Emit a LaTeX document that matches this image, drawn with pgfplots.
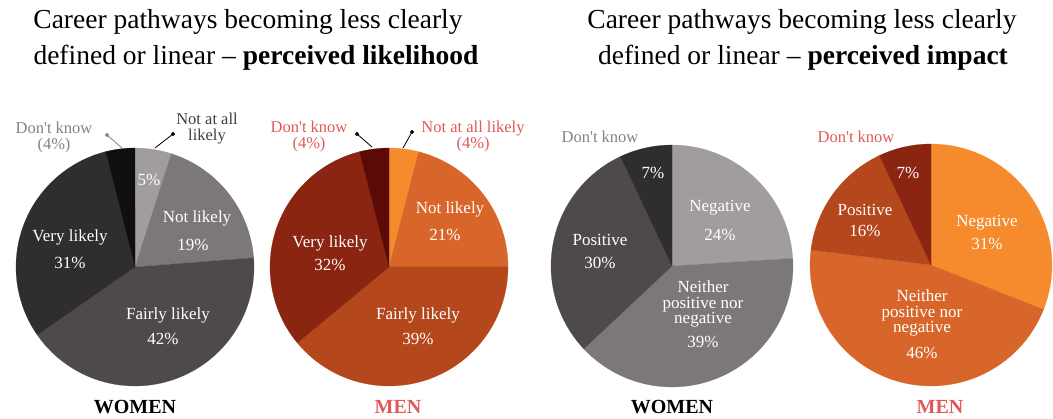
\documentclass[border=0pt]{standalone}
\usepackage{pgfplots}
\pgfplotsset{compat=1.18}
\usepackage{fontspec}
\setmainfont{Liberation Serif}

\definecolor{wA}{HTML}{A19D9D}
\definecolor{wB}{HTML}{7C7879}
\definecolor{wC}{HTML}{4E4A4C}
\definecolor{wD}{HTML}{2F2D2F}
\definecolor{wE}{HTML}{0F0E10}
\definecolor{mA}{HTML}{F68B2E}
\definecolor{mB}{HTML}{D8662A}
\definecolor{mC}{HTML}{B4471C}
\definecolor{mD}{HTML}{8A2512}
\definecolor{mE}{HTML}{5C0A05}
\definecolor{redtxt}{HTML}{E05858}
\definecolor{graytxt}{HTML}{858181}
\definecolor{darktxt}{HTML}{404040}

% cx cy r start pct total colour
\newcommand{\pieslice}[7]{%
  \pgfmathsetmacro{\aA}{90-(#4+#5)*(360/#6)}%
  \pgfmathsetmacro{\aB}{90-#4*(360/#6)}%
  \addplot[fill=#7, draw=#7, line width=0.2pt, domain=\aA:\aB, samples=80, variable=\t]
    ({#1+#3*cos(\t)},{#2-#3*sin(\t)}) -- (axis cs:#1,#2) -- cycle;
}
\newcommand{\lbl}[3]{\node[font=\fontsize{17}{20}\selectfont, text=white, anchor=center, inner sep=0pt] at (axis cs:#1,#2) {#3};}
\newcommand{\dk}{Don\textquotesingle t know}

\begin{document}
\begin{tikzpicture}
\useasboundingbox (0,0) rectangle (1053pt,419pt);
\begin{axis}[x=1pt, y=1pt, xmin=0, xmax=1053, ymin=0, ymax=419, y dir=reverse,
  hide axis, clip=false, scale only axis, anchor=south west, at={(0,0)}]

% ---- Pie 1: women, likelihood (values sum to 101)
\pieslice{135}{267}{119}{0}{5}{101}{wA}
\pieslice{135}{267}{119}{5}{19}{101}{wB}
\pieslice{135}{267}{119}{24}{42}{101}{wC}
\pieslice{135}{267}{119}{66}{31}{101}{wD}
\pieslice{135}{267}{119}{97}{4}{101}{wE}

% ---- Pie 2: men, likelihood
\pieslice{389}{267}{119}{0}{4}{100}{mA}
\pieslice{389}{267}{119}{4}{21}{100}{mB}
\pieslice{389}{267}{119}{25}{39}{100}{mC}
\pieslice{389}{267}{119}{64}{32}{100}{mD}
\pieslice{389}{267}{119}{96}{4}{100}{mE}

% ---- Pie 3: women, impact
\pieslice{672}{266}{121}{0}{24}{100}{wA}
\pieslice{672}{266}{121}{24}{39}{100}{wB}
\pieslice{672}{266}{121}{63}{30}{100}{wC}
\pieslice{672}{266}{121}{93}{7}{100}{wD}

% ---- Pie 4: men, impact
\pieslice{931}{265}{121}{0}{31}{100}{mA}
\pieslice{931}{265}{121}{31}{46}{100}{mB}
\pieslice{931}{265}{121}{77}{16}{100}{mC}
\pieslice{931}{265}{121}{93}{7}{100}{mD}

% ---- leader lines
\addplot[graytxt, line width=0.8pt, mark=*, mark size=1.6pt, mark indices={1}] coordinates {(107,135) (122,148)};
\addplot[black, line width=0.8pt, mark=*, mark size=1.6pt, mark indices={1}] coordinates {(173,134) (155,148)};
\addplot[black, line width=0.8pt, mark=*, mark size=1.6pt, mark indices={1}] coordinates {(357,134) (372,147)};
\addplot[black, line width=0.8pt, mark=*, mark size=1.6pt, mark indices={1}] coordinates {(412,132) (403,148)};

% ---- inside labels
\lbl{149}{180}{5\%}
\lbl{197}{218}{Not likely}\lbl{193}{245}{19\%}
\lbl{70}{237}{Very likely}\lbl{70}{263}{31\%}
\lbl{168}{315}{Fairly likely}\lbl{163}{339}{42\%}

\lbl{450}{209}{Not likely}\lbl{445}{235}{21\%}
\lbl{330}{243}{Very likely}\lbl{330}{265}{32\%}
\lbl{418}{315}{Fairly likely}\lbl{418}{339}{39\%}

\lbl{653}{173}{7\%}
\lbl{720}{208}{Negative}\lbl{720}{235}{24\%}
\lbl{600}{240}{Positive}\lbl{600}{263}{30\%}
\node[font=\fontsize{17}{15.8}\selectfont, text=white, align=center, inner sep=0pt] at (axis cs:703,304) {Neither\\positive nor\\negative};
\lbl{703}{342}{39\%}

\lbl{908}{173}{7\%}
\lbl{987}{223}{Negative}\lbl{987}{244}{31\%}
\lbl{865}{210}{Positive}\lbl{865}{231}{16\%}
\node[font=\fontsize{17}{15.8}\selectfont, text=white, align=center, inner sep=0pt] at (axis cs:922,313) {Neither\\positive nor\\negative};
\lbl{922}{353}{46\%}

% ---- outside labels
\begin{scope}[every node/.style={font=\fontsize{16.5}{16}\selectfont, anchor=center, align=center, inner sep=0pt}]
\node[text=graytxt] at (axis cs:54,137.5) {\dk\\(4\%)};
\node[text=darktxt] at (axis cs:207,128.5) {Not at all\\likely};
\node[text=redtxt] at (axis cs:309,136.5) {\dk\\(4\%)};
\node[text=redtxt] at (axis cs:473,136.5) {Not at all likely\\(4\%)};
\node[text=graytxt] at (axis cs:600,137) {\dk};
\node[text=redtxt] at (axis cs:856,137) {\dk};
\end{scope}

% ---- group labels
\begin{scope}[every node/.style={font=\fontsize{20}{24}\selectfont\bfseries, anchor=center}]
\node[text=black] at (axis cs:135,407) {WOMEN};
\node[text=redtxt] at (axis cs:398,407) {MEN};
\node[text=black] at (axis cs:672,407) {WOMEN};
\node[text=redtxt] at (axis cs:940,407) {MEN};
\end{scope}

% ---- titles
\begin{scope}[every node/.style={font=\fontsize{27.5}{32}\selectfont, anchor=center, text=black}]
\node at (axis cs:248,22) {Career pathways becoming less clearly};
\node at (axis cs:256,58) {defined or linear -- \textbf{perceived likelihood}};
\node at (axis cs:802,22) {Career pathways becoming less clearly};
\node at (axis cs:803,58) {defined or linear -- \textbf{perceived impact}};
\end{scope}
\end{axis}
\end{tikzpicture}
\end{document}
